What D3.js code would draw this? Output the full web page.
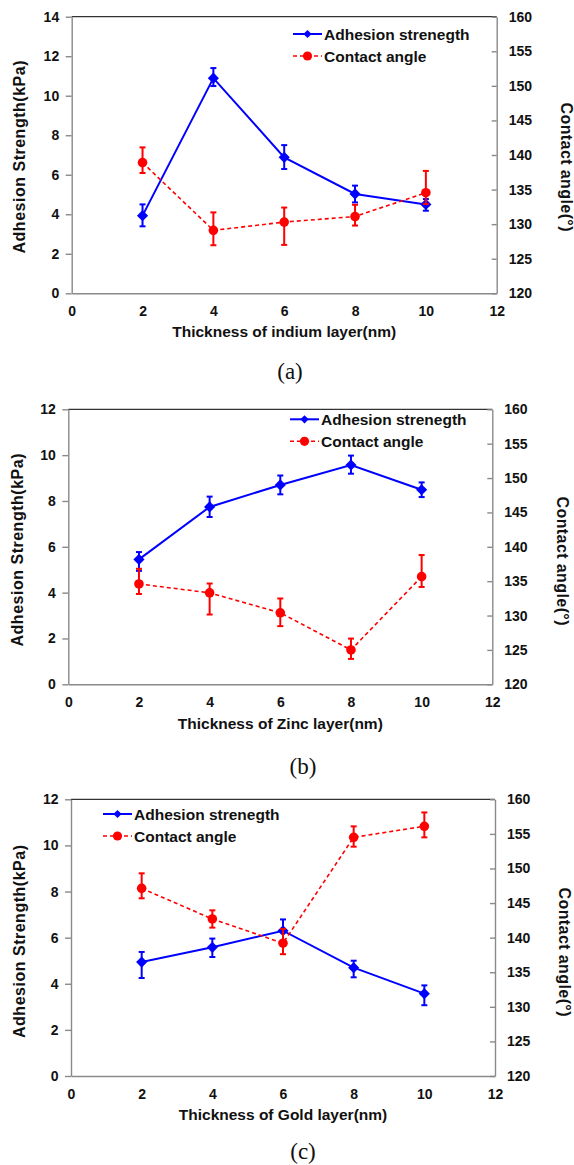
<!DOCTYPE html>
<html>
<head>
<meta charset="utf-8">
<script src="https://cdn.jsdelivr.net/npm/d3@7"></script>
<style>
  body { margin: 0; background: #fff; }
  svg text { font-family: "Liberation Sans", Arial, sans-serif; font-weight: bold; fill: #111; }
  svg text.tag { font-family: "Liberation Serif", "Times New Roman", serif; font-weight: normal; }
</style>
</head>
<body>
<svg id="chart"></svg>
<script>
const width = 574;
const height = 1165;

// shared categories and ticks
const thickness = [2, 4, 6, 8, 10];
const xTicks = [0, 2, 4, 6, 8, 10, 12];
const adhTicks14 = [0, 2, 4, 6, 8, 10, 12, 14];
const adhTicks12 = [0, 2, 4, 6, 8, 10, 12];
const angleTicks = [120, 125, 130, 135, 140, 145, 150, 155, 160];
const seriesNames = ['Adhesion strenegth', 'Contact angle'];

// (a) indium
const indiumAdh = [3.93, 10.89, 6.88, 5.03, 4.5];
const indiumAdhUp = [0.57, 0.51, 0.62, 0.42, 0.27];
const indiumAdhDown = [0.54, 0.40, 0.59, 0.43, 0.32];
const indiumAngle = [138.9, 129.1, 130.3, 131.1, 134.55];
const indiumAngleUp = [2.2, 2.6, 2.1, 1.7, 3.15];
const indiumAngleDown = [1.5, 2.15, 3.3, 1.3, 1.65];

// (b) zinc
const zincAdh = [5.45, 7.74, 8.70, 9.57, 8.49];
const zincAdhUp = [0.32, 0.45, 0.41, 0.41, 0.32];
const zincAdhDown = [0.5, 0.44, 0.41, 0.38, 0.32];
const zincAngle = [134.6, 133.3, 130.4, 125.0, 135.66];
const zincAngleUp = [2.2, 1.36, 2.08, 1.65, 3.14];
const zincAngleDown = [1.46, 3.15, 1.94, 1.31, 1.5];

// (c) gold
const goldAdh = [4.94, 5.58, 6.30, 4.70, 3.57];
const goldAdhUp = [0.44, 0.38, 0.49, 0.3, 0.36];
const goldAdhDown = [0.69, 0.42, 0.52, 0.42, 0.5];
const goldAngle = [147.13, 142.7, 139.2, 154.5, 156.1];
const goldAngleUp = [2.17, 1.25, 2.07, 1.59, 2.0];
const goldAngleDown = [1.44, 1.25, 1.59, 1.35, 1.6];

const blue = '#0000ff';
const red = '#ff0000';
const axisGray = '#8a8a8a';

const panels = [
  {
    xTitle: 'Thickness of indium layer(nm)', tag: '(a)', adhMax: 14, adhTicks: adhTicks14,
    adh: indiumAdh, adhUp: indiumAdhUp, adhDown: indiumAdhDown,
    ang: indiumAngle, angUp: indiumAngleUp, angDown: indiumAngleDown,
    left: 71.7, right: 496.7, top: 16.7, bottom: 293.3,
    legendX: 293, legendY: 34, tagX: 290, tagY: 379,
    xTitleY: 337, leftTitle: [19.5, 157], rightTitle: [566.7, 167]
  },
  {
    xTitle: 'Thickness of Zinc layer(nm)', tag: '(b)', adhMax: 12, adhTicks: adhTicks12,
    adh: zincAdh, adhUp: zincAdhUp, adhDown: zincAdhDown,
    ang: zincAngle, angUp: zincAngleUp, angDown: zincAngleDown,
    left: 68.3, right: 492.3, top: 409.3, bottom: 684.3,
    legendX: 290, legendY: 419.3, tagX: 303, tagY: 774,
    xTitleY: 728.5, leftTitle: [17, 550], rightTitle: [562.7, 561]
  },
  {
    xTitle: 'Thickness of Gold layer(nm)', tag: '(c)', adhMax: 12, adhTicks: adhTicks12,
    adh: goldAdh, adhUp: goldAdhUp, adhDown: goldAdhDown,
    ang: goldAngle, angUp: goldAngleUp, angDown: goldAngleDown,
    left: 71, right: 495, top: 799.3, bottom: 1076,
    legendX: 103, legendY: 814, tagX: 303, tagY: 1159,
    xTitleY: 1120, leftTitle: [19.5, 941.5], rightTitle: [565, 952]
  }
];

const svg = d3.select('#chart').attr('width', width).attr('height', height);

const diamond = d3.symbol().type(d3.symbolSquare);

function styleAxis(g) {
  g.selectAll('path.domain').attr('stroke', axisGray).attr('stroke-width', 1.4);
  g.selectAll('.tick line').attr('stroke', axisGray).attr('stroke-width', 1.4);
  g.selectAll('.tick text').attr('font-size', 14).attr('fill', '#111')
    .attr('font-family', '"Liberation Sans", Arial, sans-serif').attr('font-weight', 'bold');
}

function drawSeries(g, x, y, values, up, down, color, dashed, marker) {
  const pts = thickness.map((t, i) => ({ t, v: values[i], up: up[i], down: down[i] }));

  g.append('path').datum(pts)
    .attr('fill', 'none')
    .attr('stroke', color)
    .attr('stroke-width', dashed ? 1.6 : 2)
    .attr('stroke-dasharray', dashed ? '4,3' : null)
    .attr('d', d3.line().x(d => x(d.t)).y(d => y(d.v)));

  const err = g.append('g').attr('stroke', color).attr('stroke-width', 2);
  pts.forEach(d => {
    const cx = x(d.t);
    const y1 = y(d.v + d.up), y2 = y(d.v - d.down);
    err.append('line').attr('x1', cx).attr('x2', cx).attr('y1', y1).attr('y2', y2);
    err.append('line').attr('x1', cx - 3).attr('x2', cx + 3).attr('y1', y1).attr('y2', y1);
    err.append('line').attr('x1', cx - 3).attr('x2', cx + 3).attr('y1', y2).attr('y2', y2);
  });

  if (marker === 'diamond') {
    g.selectAll(null).data(pts).enter().append('path')
      .attr('d', diamond.size(62)())
      .attr('fill', color)
      .attr('transform', d => `translate(${x(d.t)},${y(d.v)}) rotate(45)`);
  } else {
    g.selectAll(null).data(pts).enter().append('circle')
      .attr('cx', d => x(d.t)).attr('cy', d => y(d.v)).attr('r', 4.8)
      .attr('fill', color);
  }
}

panels.forEach(p => {
  const g = svg.append('g');
  const x = d3.scaleLinear().domain([0, 12]).range([p.left, p.right]);
  const yAdh = d3.scaleLinear().domain([0, p.adhMax]).range([p.bottom, p.top]);
  const yAng = d3.scaleLinear().domain([120, 160]).range([p.bottom, p.top]);

  // top frame line
  g.append('line')
    .attr('x1', p.left).attr('x2', p.right)
    .attr('y1', p.top).attr('y2', p.top)
    .attr('stroke', '#333').attr('stroke-width', 1.2);

  g.append('g').attr('transform', `translate(0,${p.bottom})`)
    .call(d3.axisBottom(x).tickValues(xTicks).tickSize(0).tickPadding(13))
    .call(styleAxis);

  g.append('g').attr('transform', `translate(${p.left},0)`)
    .call(d3.axisLeft(yAdh).tickValues(p.adhTicks).tickSizeInner(6).tickSizeOuter(0).tickPadding(6.5))
    .call(styleAxis);

  g.append('g').attr('transform', `translate(${p.right},0)`)
    .call(d3.axisRight(yAng).tickValues(angleTicks).tickSizeInner(-5).tickSizeOuter(0).tickPadding(12))
    .call(styleAxis);

  drawSeries(g, x, yAdh, p.adh, p.adhUp, p.adhDown, blue, false, 'diamond');
  drawSeries(g, x, yAng, p.ang, p.angUp, p.angDown, red, true, 'circle');

  // legend
  const lg = g.append('g').attr('transform', `translate(${p.legendX},${p.legendY})`);
  seriesNames.forEach((name, i) => {
    const row = lg.append('g').attr('transform', `translate(0,${i * 22})`);
    row.append('line').attr('x1', 0).attr('x2', 29).attr('y1', 0).attr('y2', 0)
      .attr('stroke', i === 0 ? blue : red)
      .attr('stroke-width', i === 0 ? 2 : 1.6)
      .attr('stroke-dasharray', i === 0 ? null : '4,3');
    if (i === 0) {
      row.append('path').attr('d', diamond.size(34)()).attr('fill', blue)
        .attr('transform', 'translate(14.5,0) rotate(45)');
    } else {
      row.append('circle').attr('cx', 14.5).attr('cy', 0).attr('r', 4.6).attr('fill', red);
    }
    row.append('text').attr('x', 31).attr('dy', '0.36em').attr('font-size', 15.5).text(name);
  });

  // axis titles
  g.append('text')
    .attr('transform', `translate(${(p.left + p.right) / 2},${p.xTitleY})`)
    .attr('text-anchor', 'middle').attr('font-size', 15.5)
    .text(p.xTitle);

  g.append('text')
    .attr('transform', `translate(${p.leftTitle[0]},${p.leftTitle[1]}) rotate(-90)`)
    .attr('text-anchor', 'middle').attr('dy', '0.36em').attr('font-size', 16)
    .attr('textLength', 193).attr('lengthAdjust', 'spacing')
    .text('Adhesion Strength(kPa)');

  g.append('text')
    .attr('transform', `translate(${p.rightTitle[0]},${p.rightTitle[1]}) rotate(90)`)
    .attr('text-anchor', 'middle').attr('dy', '0.36em').attr('font-size', 16)
    .attr('textLength', 129).attr('lengthAdjust', 'spacing')
    .text('Contact angle(°)');

  g.append('text').attr('class', 'tag')
    .attr('x', p.tagX).attr('y', p.tagY)
    .attr('text-anchor', 'middle').attr('font-size', 23)
    .text(p.tag);
});
</script>
</body>
</html>
